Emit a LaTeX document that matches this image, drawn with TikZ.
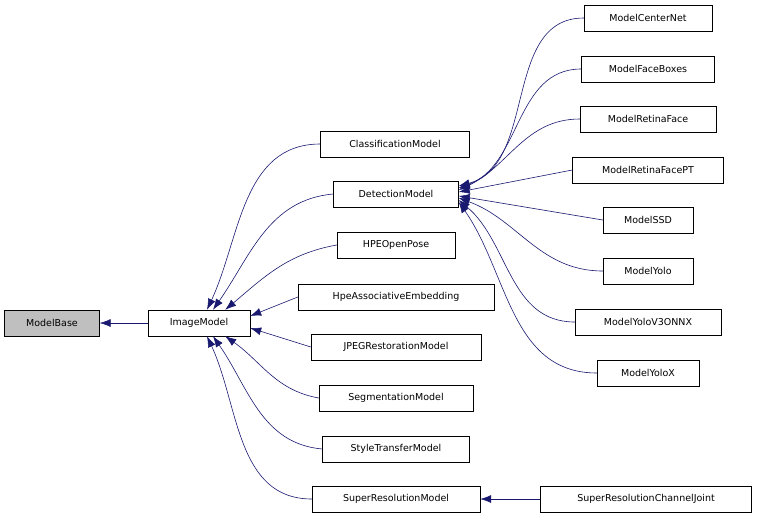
\documentclass[tikz,border=0pt]{standalone}
\usepackage{fontspec}
\setmainfont{DejaVu Sans}
\usetikzlibrary{arrows.meta,calc}
\begin{document}
\begin{tikzpicture}[x=1pt,y=-1pt,
  box/.style={draw=black,fill=white,minimum height=26pt,inner xsep=6pt,font=\fontsize{9.5}{11}\selectfont},
  e/.style={draw={rgb,255:red,25;green,25;blue,112},line width=0.6pt,-{Latex[length=11pt,width=8pt]},fill=none},
  ]
\useasboundingbox (0,0) rectangle (759,519);
\node[box,fill={rgb,255:red,191;green,191;blue,191},minimum width=95pt] (mb) at (52,323) {ModelBase};
\node[box,minimum width=102pt] (im) at (199,323) {ImageModel};
\node[box,minimum width=149pt] (cl) at (395,144) {ClassificationModel};
\node[box,minimum width=125pt] (det) at (396,194) {DetectionModel};
\node[box,minimum width=118pt] (hpe) at (396,245) {HPEOpenPose};
\node[box,minimum width=196pt] (hae) at (396,297) {HpeAssociativeEmbedding};
\node[box,minimum width=170pt] (jpg) at (396,347) {JPEGRestorationModel};
\node[box,minimum width=154pt] (seg) at (396,398) {SegmentationModel};
\node[box,minimum width=147pt] (sty) at (396,449) {StyleTransferModel};
\node[box,minimum width=168pt] (sr) at (396,499) {SuperResolutionModel};
\node[box,minimum width=211pt] (srj) at (646,499) {SuperResolutionChannelJoint};
\node[box,minimum width=128pt] (cn) at (648,18) {ModelCenterNet};
\node[box,minimum width=133pt] (fb) at (648,69) {ModelFaceBoxes};
\node[box,minimum width=136pt] (rf) at (648,119) {ModelRetinaFace};
\node[box,minimum width=151pt] (rfp) at (648,170) {ModelRetinaFacePT};
\node[box,minimum width=90pt] (ssd) at (648,220) {ModelSSD};
\node[box,minimum width=90pt] (yo) at (648,271) {ModelYolo};
\node[box,minimum width=146pt] (yv3) at (648,322) {ModelYoloV3ONNX};
\node[box,minimum width=102pt] (yx) at (648,373) {ModelYoloX};

\draw[e] (im.west) -- (mb.east);
\draw[e] (cl.west) to[out=180,in=65] ($(im.north)+(8,0)$);
\draw[e] (det.west) to[out=185,in=55] ($(im.north)+(14,0)$);
\draw[e] (hpe.west) to[out=190,in=40] ($(im.north east)+(-25,0)$);
\draw[e] (hae.west) -- ($(im.east)+(0,-7)$);
\draw[e] (jpg.west) -- ($(im.east)+(0,5)$);
\draw[e] (seg.west) to[out=170,in=-35] ($(im.south east)+(-25,0)$);
\draw[e] (sty.west) to[out=175,in=-55] ($(im.south)+(14,0)$);
\draw[e] (sr.west) to[out=180,in=-65] ($(im.south)+(8,0)$);
\draw[e] (srj.west) -- (sr.east);
\draw[e] (cn.west) to[out=180,in=15] ($(det.east)+(0,-8)$);
\draw[e] (fb.west) to[out=180,in=20] ($(det.east)+(0,-6)$);
\draw[e] (rf.west) to[out=180,in=25] ($(det.east)+(0,-4)$);
\draw[e] (rfp.west) -- ($(det.east)+(0,-2)$);
\draw[e] (ssd.west) -- ($(det.east)+(0,2)$);
\draw[e] (yo.west) to[out=180,in=-20] ($(det.east)+(0,4)$);
\draw[e] (yv3.west) to[out=180,in=-40] ($(det.east)+(0,6)$);
\draw[e] (yx.west) to[out=180,in=-55] ($(det.east)+(0,8)$);
\end{tikzpicture}
\end{document}
